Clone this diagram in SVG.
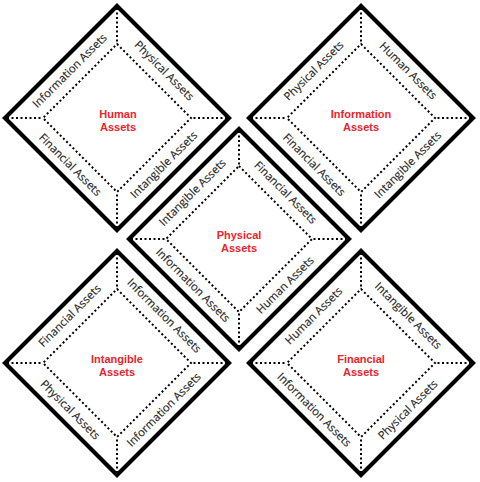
<svg xmlns="http://www.w3.org/2000/svg" width="480" height="482" viewBox="0 0 480 482">
<style>
.outer{fill:none;stroke:#000;stroke-width:4.2;stroke-linejoin:miter}
.dot{fill:none;stroke:#000;stroke-width:2;stroke-dasharray:2 2.5}
.lbl{font-family:"Open Sans","DejaVu Sans",sans-serif;font-size:11.3px;fill:#1e1e1e;text-anchor:middle;stroke:#1e1e1e;stroke-width:0.15}
.ttl{font-family:"Liberation Sans",Arial,sans-serif;font-size:11px;font-weight:bold;fill:#e5262d;text-anchor:middle}
</style>
<defs>
<g id="frame">
<polygon class="outer" points="0,-112 112,0 0,112 -112,0"/>
<polygon class="dot" points="0,-74 74,0 0,74 -74,0"/>
<path class="dot" d="M0,-110V-74M0,110V74M-110,0H-74M110,0H74"/>
</g>
<g id="frameS">
<polygon class="outer" points="0,-110 110,0 0,110 -110,0"/>
<polygon class="dot" points="0,-73 73,0 0,73 -73,0"/>
<path class="dot" d="M0,-108V-73M0,108V73M-108,0H-73M108,0H73"/>
</g>
</defs>
<rect width="480" height="482" fill="#fff"/>

<g id="human" transform="translate(117,118)">
<use href="#frame"/>
<text class="lbl" transform="rotate(-45)" x="0" y="-63">Information Assets</text>
<text class="lbl" transform="rotate(45)" x="0" y="-63">Physical Assets</text>
<text class="lbl" transform="rotate(45)" x="0" y="70">Financial Assets</text>
<text class="lbl" transform="rotate(-45)" x="0" y="70">Intangible Assets</text>
<text class="ttl"><tspan x="1" y="0">Human</tspan><tspan x="1" y="13">Assets</tspan></text>
</g>

<g id="information" transform="translate(361,118)">
<use href="#frame"/>
<text class="lbl" transform="rotate(-45)" x="0" y="-63">Physical Assets</text>
<text class="lbl" transform="rotate(45)" x="0" y="-63">Human Assets</text>
<text class="lbl" transform="rotate(45)" x="0" y="70">Financial Assets</text>
<text class="lbl" transform="rotate(-45)" x="0" y="70">Intangible Assets</text>
<text class="ttl"><tspan x="0" y="0">Information</tspan><tspan x="0" y="13">Assets</tspan></text>
</g>

<g id="physical" transform="translate(239,239)">
<use href="#frameS"/>
<text class="lbl" transform="rotate(-45)" x="0" y="-62">Intangible Assets</text>
<text class="lbl" transform="rotate(45)" x="0" y="-62">Financial Assets</text>
<text class="lbl" transform="rotate(45)" x="0" y="69">Information Assets</text>
<text class="lbl" transform="rotate(-45)" x="0" y="69">Human Assets</text>
<text class="ttl"><tspan x="0" y="0">Physical</tspan><tspan x="0" y="13">Assets</tspan></text>
</g>

<g id="intangible" transform="translate(117,363)">
<use href="#frame"/>
<text class="lbl" transform="rotate(-45)" x="0" y="-63">Financial Assets</text>
<text class="lbl" transform="rotate(45)" x="0" y="-63">Information Assets</text>
<text class="lbl" transform="rotate(45)" x="0" y="70">Physical Assets</text>
<text class="lbl" transform="rotate(-45)" x="0" y="70">Information Assets</text>
<text class="ttl"><tspan x="0" y="0">Intangible</tspan><tspan x="0" y="13">Assets</tspan></text>
</g>

<g id="financial" transform="translate(361,363)">
<use href="#frame"/>
<text class="lbl" transform="rotate(-45)" x="0" y="-63">Human Assets</text>
<text class="lbl" transform="rotate(45)" x="0" y="-63">Intangible Assets</text>
<text class="lbl" transform="rotate(45)" x="0" y="70">Information Assets</text>
<text class="lbl" transform="rotate(-45)" x="0" y="70">Physical Assets</text>
<text class="ttl"><tspan x="0" y="0">Financial</tspan><tspan x="0" y="13">Assets</tspan></text>
</g>
</svg>
